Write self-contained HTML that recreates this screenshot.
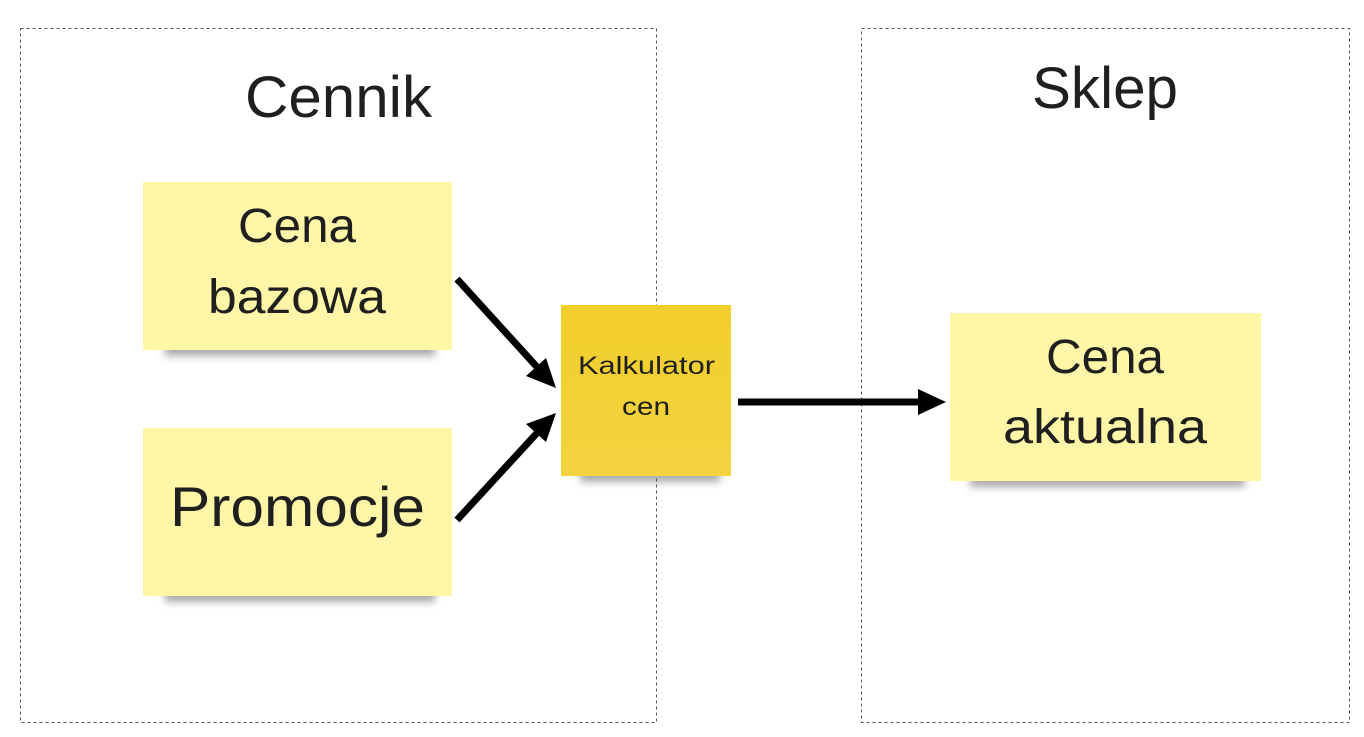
<!DOCTYPE html>
<html><head><style>
body{margin:0;background:#fff;width:1364px;height:732px;overflow:hidden}
text{font-family:"Liberation Sans","DejaVu Sans",sans-serif;fill:#1f1f1f}
</style></head><body>
<svg width="1364" height="732" xmlns="http://www.w3.org/2000/svg">
<defs>
<filter id="sh" x="-20%" y="-20%" width="140%" height="150%"><feGaussianBlur stdDeviation="4"/></filter>
<linearGradient id="ky" x1="0" y1="0" x2="0" y2="1"><stop offset="0" stop-color="#f1ce2a"/><stop offset="1" stop-color="#f3d441"/></linearGradient>
</defs>
<rect x="20.5" y="28.5" width="636" height="694" fill="none" stroke="#555" stroke-dasharray="3,3"/>
<rect x="861.5" y="28.5" width="488" height="694" fill="none" stroke="#555" stroke-dasharray="3,3"/>
<text x="245" y="117" font-size="58" textLength="187" lengthAdjust="spacingAndGlyphs">Cennik</text>
<text x="1032" y="108" font-size="58" textLength="146" lengthAdjust="spacingAndGlyphs">Sklep</text>
<g fill="#444" opacity="0.45" filter="url(#sh)">
<rect x="165" y="340" width="270" height="16"/>
<rect x="165" y="586" width="270" height="16"/>
<rect x="580" y="466" width="140" height="16"/>
<rect x="970" y="471" width="275" height="16"/>
</g>
<rect x="143" y="182" width="309" height="168" fill="#fff6a8"/>
<rect x="143" y="428" width="309" height="168" fill="#fff6a8"/>
<rect x="561" y="305" width="170" height="171" fill="url(#ky)"/>
<rect x="950" y="313" width="311" height="168" fill="#fff6a8"/>
<text x="238" y="242" font-size="48" textLength="118" lengthAdjust="spacingAndGlyphs">Cena</text>
<text x="208" y="313" font-size="48" textLength="178" lengthAdjust="spacingAndGlyphs">bazowa</text>
<text x="170" y="526" font-size="56" textLength="255" lengthAdjust="spacingAndGlyphs">Promocje</text>
<text x="578" y="374" font-size="25" textLength="137" lengthAdjust="spacingAndGlyphs">Kalkulator</text>
<text x="622" y="415" font-size="25" textLength="48" lengthAdjust="spacingAndGlyphs">cen</text>
<text x="1046" y="373" font-size="48" textLength="118" lengthAdjust="spacingAndGlyphs">Cena</text>
<text x="1003" y="443" font-size="48" textLength="204" lengthAdjust="spacingAndGlyphs">aktualna</text>
<g stroke="#000" stroke-width="7" fill="none">
<line x1="457" y1="279" x2="537" y2="367"/>
<line x1="457" y1="520" x2="537" y2="433"/>
<line x1="738" y1="402" x2="920" y2="402"/>
</g>
<g fill="#000">
<polygon points="556,388 526,376 546,358"/>
<polygon points="556,413 546,442 526,424"/>
<polygon points="946,402 918,389 918,415"/>
</g>
</svg>
</body></html>
